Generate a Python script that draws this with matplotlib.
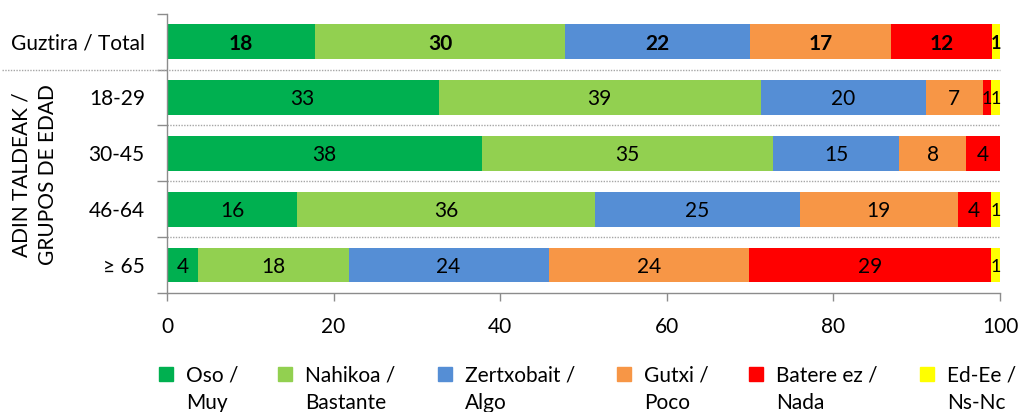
import matplotlib.pyplot as plt
import matplotlib.transforms as mtransforms
from matplotlib.patches import Rectangle
import numpy as np

plt.rcParams['font.family'] = ['Lato', 'DejaVu Sans']

# Data (percent shares)
groups = ['Guztira / Total', '18-29', '30-45', '46-64', '≥ 65']
series = ['Oso /\nMuy', 'Nahikoa /\nBastante', 'Zertxobait /\nAlgo',
          'Gutxi /\nPoco', 'Batere ez /\nNada', 'Ed-Ee /\nNs-Nc']
oso = [17.8, 32.6, 37.8, 15.6, 3.7]
nahikoa = [30.0, 38.7, 35.0, 35.8, 18.1]
zertxobait = [22.2, 19.8, 15.1, 24.6, 24.0]
gutxi = [16.9, 6.8, 8.0, 18.9, 24.1]
batere = [12.1, 1.0, 4.1, 4.0, 29.0]
edee = [1.0, 1.1, 0.0, 1.1, 1.1]
colors = ['#00B050', '#92D050', '#558ED5', '#F79646', '#FF0000', '#FFFF00']
xticks = [0, 20, 40, 60, 80, 100]

W, H = 1020, 412
axis_grey = '#8C8C8C'
fs = 15

fig = plt.figure(figsize=(W / 100, H / 100), dpi=100)
ax = fig.add_axes([167 / W, 1 - 293 / H, 833 / W, (293 - 13.7) / H])

values = [oso, nahikoa, zertxobait, gutxi, batere, edee]
y = np.arange(len(groups))
left = np.zeros(len(groups))
for vals, col in zip(values, colors):
    vals = np.array(vals)
    ax.barh(y, vals, left=left, height=0.62, color=col, edgecolor='none')
    for i, (l, v) in enumerate(zip(left, vals)):
        if v <= 0:
            continue
        # tiny segments get a slightly smaller label so neighbours don't collide
        ax.text(l + v / 2, i, f'{v:.0f}', ha='center', va='center_baseline',
                fontsize=fs if v >= 1.5 else 13, color='black',
                fontweight='bold' if i == 0 else 'normal')
    left += vals

ax.set_xlim(0, 100)
ax.set_ylim(len(groups) - 0.5, -0.5)
ax.set_xticks(xticks)
ax.set_yticks(y)
ax.set_yticklabels(groups, fontsize=fs)
ax.set_yticks(np.arange(-0.5, len(groups), 1), minor=True)
ax.tick_params(axis='y', which='major', length=0, pad=16)
ax.tick_params(axis='y', which='minor', length=7, color=axis_grey, width=1)
ax.tick_params(axis='x', length=6, color=axis_grey, width=1, pad=11, labelsize=fs)

for side in ['top', 'right']:
    ax.spines[side].set_visible(False)
for side in ['left', 'bottom']:
    ax.spines[side].set_color(axis_grey)
    ax.spines[side].set_linewidth(1)

# dotted separators between rows
trans = mtransforms.blended_transform_factory(ax.transAxes, ax.transData)
for k, b in enumerate(np.arange(0.5, len(groups) - 1, 1)):
    x0 = (2 - 167) / 833 if k == 0 else 0
    ax.plot([x0, 1.0], [b, b], transform=trans, color='#A6A6A6', lw=1,
            ls=(0, (1, 1)), clip_on=False)

fig.text(34.5 / W, 1 - 175 / H, 'ADIN TALDEAK /\nGRUPOS DE EDAD', rotation=90,
         ha='center', va='center', fontsize=15, linespacing=1.4,
         multialignment='center')

# legend laid out like the original (handle next to the first text line)
marker_x = [159, 278, 438, 617, 749, 920]
for mx, name, col in zip(marker_x, series, colors):
    fig.patches.append(Rectangle((mx / W, 1 - 381 / H), 14 / W, 14 / H,
                                 transform=fig.transFigure, color=col))
    line1, line2 = name.split('\n')
    fig.text((mx + 27) / W, 1 - 375 / H, line1, ha='left', va='center',
             fontsize=fs)
    fig.text((mx + 27) / W, 1 - 403 / H, line2, ha='left', va='center',
             fontsize=fs)

fig.savefig('out.png', dpi=100)
